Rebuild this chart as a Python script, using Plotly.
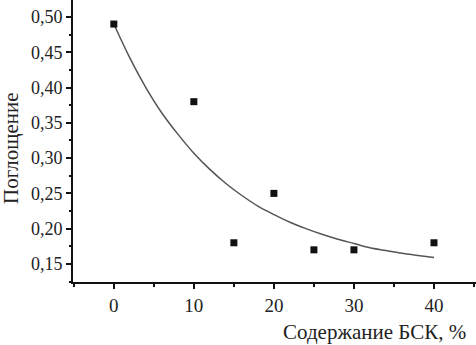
import plotly.graph_objects as go

# measured points
bsk = [0, 10, 15, 20, 25, 30, 40]
absorb = [0.49, 0.38, 0.18, 0.25, 0.17, 0.17, 0.18]

# fitted curve
fit_x = [0, 2, 4, 6, 8, 10, 12, 14, 16, 18, 20, 22, 24, 26, 28, 30, 32, 34, 36, 38, 40]
fit_y = [0.490, 0.442, 0.400, 0.364, 0.334, 0.307, 0.284, 0.264, 0.247, 0.232, 0.220,
         0.209, 0.200, 0.192, 0.185, 0.179, 0.173, 0.169, 0.165, 0.162, 0.159]

x_ticks = [0, 10, 20, 30, 40]
y_ticks = [0.15, 0.20, 0.25, 0.30, 0.35, 0.40, 0.45, 0.50]
y_labels = ["0,15", "0,20", "0,25", "0,30", "0,35", "0,40", "0,45", "0,50"]

FONT = "serif"

fig = go.Figure()
fig.add_trace(go.Scatter(x=fit_x, y=fit_y, mode="lines", line=dict(color="#555555", width=1.5, shape="spline"),
                         hoverinfo="skip"))
fig.add_trace(go.Scatter(x=bsk, y=absorb, mode="markers",
                         marker=dict(symbol="square", size=7, color="#111111")))

fig.update_layout(
    width=476, height=345,
    margin=dict(l=73, r=0, t=0, b=63, autoexpand=False),
    paper_bgcolor="white", plot_bgcolor="white",
    showlegend=False,
    font=dict(family=FONT, size=18, color="#222222"),
    xaxis=dict(range=[-5.1, 45.25], tickmode="array", tickvals=x_ticks, automargin=False,
               ticktext=[str(v) for v in x_ticks],
               showline=True, linewidth=2, linecolor="#111111", showgrid=False, zeroline=False,
               ticks="outside", ticklen=5, tickwidth=1.5, tickcolor="#111111",
               minor=dict(tickvals=[-5, 5, 15, 25, 35, 45], ticks="outside", ticklen=3, tickcolor="#111111"),
               tickfont=dict(family=FONT, size=19)),
    yaxis=dict(range=[0.1244, 0.5241], tickmode="array", tickvals=y_ticks, ticktext=y_labels,
               automargin=False,
               showline=True, linewidth=2, linecolor="#111111", showgrid=False, zeroline=False,
               ticks="outside", ticklen=5, tickwidth=1.5, tickcolor="#111111",
               minor=dict(tickvals=[0.125, 0.175, 0.225, 0.275, 0.325, 0.375, 0.425, 0.475],
                          ticks="outside", ticklen=2, tickcolor="#111111"),
               tickfont=dict(family=FONT, size=18)),
    annotations=[
        dict(text="Содержание БСК, %", xref="paper", yref="paper", x=1.0, y=0, xanchor="right",
             yanchor="middle", yshift=-50, xshift=-8, showarrow=False, font=dict(family=FONT, size=21)),
        dict(text="Поглощение", xref="paper", yref="paper", x=0, y=0.472, xanchor="center",
             yanchor="middle", xshift=-62, textangle=-90, showarrow=False, font=dict(family=FONT, size=21)),
    ],
)

fig.write_html("out.html", post_script="document.body.style.margin='0px';",
               config={"displayModeBar": False})
